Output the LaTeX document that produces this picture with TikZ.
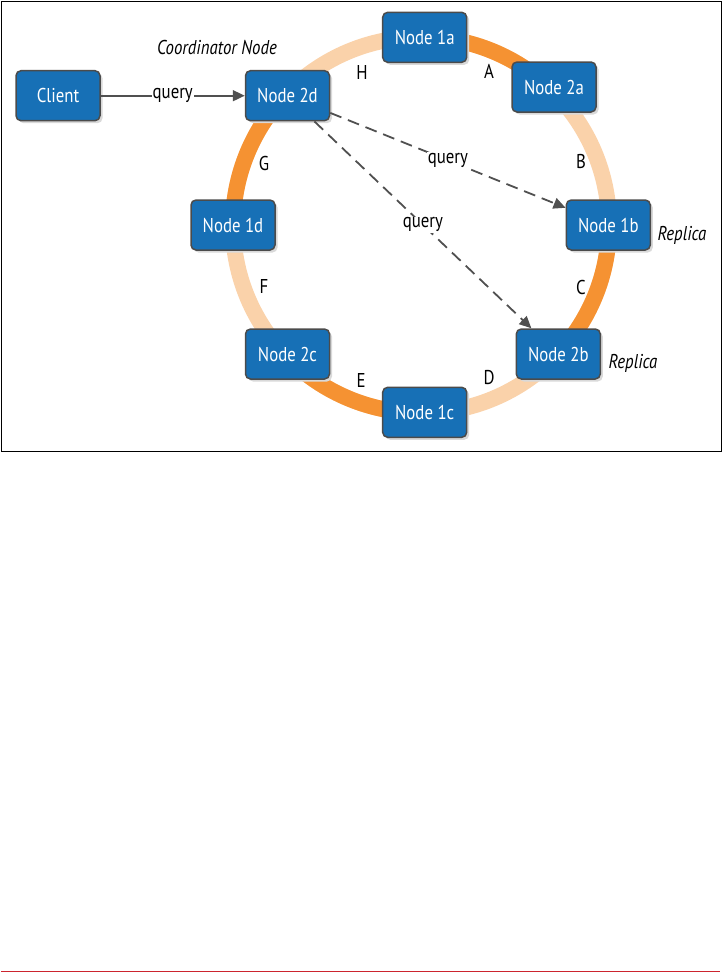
\documentclass[tikz,border=0pt]{standalone}
\usepackage{fontspec}
\setmainfont{PT Sans}[FakeStretch=0.84]
\usetikzlibrary{arrows.meta,shadows}
\definecolor{nodeblue}{RGB}{23,112,182}
\definecolor{nodeborder}{RGB}{75,75,75}
\definecolor{ringdark}{RGB}{245,146,50}
\definecolor{ringlight}{RGB}{250,210,170}
\definecolor{linegray}{RGB}{80,80,80}
\definecolor{rulered}{RGB}{204,36,46}
\begin{document}
\begin{tikzpicture}[x=1pt,y=-1pt,
  box/.style={draw=nodeborder, line width=1.5pt, fill=nodeblue, rounded corners=5pt,
    minimum width=84pt, minimum height=50pt, text=white, font=\fontsize{20}{21}\selectfont,
    inner sep=0pt, drop shadow={shadow xshift=2.5pt, shadow yshift=-2.5pt, fill=black!15, opacity=1}},
  seglabel/.style={font=\fontsize{20}{21}\selectfont, text=black, inner sep=1pt},
  qlabel/.style={font=\fontsize{20}{21}\selectfont, fill=white, inner sep=1pt},
  ital/.style={font=\fontsize{20}{21}\selectfont\itshape, inner sep=1pt},
  arr/.style={draw=linegray, line width=1.8pt, -{Triangle[length=12pt,width=11pt]}},
  dasharr/.style={arr, dash pattern=on 12pt off 7pt},
  ring/.style={line width=16pt}
]
\useasboundingbox (0,0) rectangle (723,972);
\draw[line width=1.5pt] (1.5,1.5) rectangle (721.5,451.5);
\draw[rulered, line width=1pt] (1,971) -- (720,971);
\coordinate (c) at (421,225);
\draw[ringlight, ring] (c) circle[radius=188];
\draw[ringdark, ring] (c) ++(-90:188) arc[start angle=-90, end angle=-45, radius=188];
\draw[ringdark, ring] (c) ++(0:188) arc[start angle=0, end angle=45, radius=188];
\draw[ringdark, ring] (c) ++(90:188) arc[start angle=90, end angle=135, radius=188];
\draw[ringdark, ring] (c) ++(180:188) arc[start angle=180, end angle=225, radius=188];
\node[box] (n1a) at (424.7,37.3) {Node 1a};
\node[box] (n2a) at (554,87) {Node 2a};
\node[box] (n1b) at (608.3,225) {Node 1b};
\node[box] (n2b) at (558.3,354) {Node 2b};
\node[box] (n1c) at (424.7,412.3) {Node 1c};
\node[box] (n2c) at (287.5,354) {Node 2c};
\node[box] (n1d) at (233,225) {Node 1d};
\node[box] (n2d) at (287.5,95.7) {Node 2d};
\node[box] (cl) at (58,95.7) {Client};
\draw[arr] (cl) -- node[qlabel] (q1) {query} (n2d);
\draw[dasharr] (n2d) -- node[qlabel] (q2) {query} (n1b);
\draw[dasharr] (n2d) -- node[qlabel] (q3) {query} (n2b);
\node[seglabel] (lA) at (489,71) {A};
\node[seglabel] (lB) at (581,161) {B};
\node[seglabel] (lC) at (581,287) {C};
\node[seglabel] (lD) at (489,378) {D};
\node[seglabel] (lE) at (361,380) {E};
\node[seglabel] (lF) at (264,286) {F};
\node[seglabel] (lG) at (264,163) {G};
\node[seglabel] (lH) at (362,72) {H};
\node[ital] (coord) at (217,47) {Coordinator Node};
\node[ital] (rep1) at (682,235) {Replica};
\node[ital] (rep2) at (633,363) {Replica};
\end{tikzpicture}
\end{document}
